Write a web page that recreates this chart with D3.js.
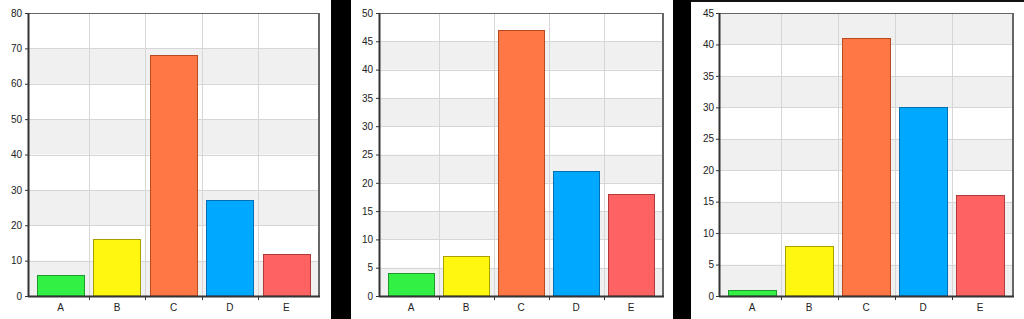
<!DOCTYPE html>
<html>
<head>
<meta charset="utf-8">
<script src="https://cdn.jsdelivr.net/npm/d3@7"></script>
<style>
  html, body { margin: 0; padding: 0; background: #000; }
  svg { display: block; }
</style>
</head>
<body>
<svg id="chart" width="1024" height="319"></svg>
<script>
// ---- data ----
const categories = ["A", "B", "C", "D", "E"];
const values1 = [6, 16, 68, 27, 12];
const values2 = [4, 7, 47, 22, 18];
const values3 = [1, 8, 41, 30, 16];
const yTicks1 = [0, 10, 20, 30, 40, 50, 60, 70, 80];
const yTicks2 = [0, 5, 10, 15, 20, 25, 30, 35, 40, 45, 50];
const yTicks3 = [0, 5, 10, 15, 20, 25, 30, 35, 40, 45];
const barFills = ["#33f044", "#fff70f", "#ff7744", "#00a8ff", "#ff6262"];
const barStrokes = ["#1f9a2a", "#a8a000", "#b84a22", "#0070b0", "#b03a3a"];

// ---- layout ----
const svg = d3.select("#chart");
const panels = [
  { bg: [0, 331], frame: [28, 319], values: values1, ticks: yTicks1, labelGap: 5 },
  { bg: [351, 673], frame: [379, 663], values: values2, ticks: yTicks2, labelGap: 5 },
  { bg: [691, 1024], frame: [719, 1013], values: values3, ticks: yTicks3, labelGap: 4 }
];
const plotTop = 13, plotBottom = 296;

svg.append("rect").attr("x", 0).attr("y", 0).attr("width", 1024).attr("height", 319).attr("fill", "#000");

panels.forEach((p, pi) => {
  svg.append("rect").attr("x", p.bg[0]).attr("y", 0)
    .attr("width", p.bg[1] - p.bg[0]).attr("height", 319).attr("fill", "#fff");
  if (pi === 2) {
    svg.append("rect").attr("x", p.bg[0]).attr("y", 0)
      .attr("width", p.bg[1] - p.bg[0]).attr("height", 2).attr("fill", "#111");
  }
  const L = p.frame[0], R = p.frame[1];
  const yMax = p.ticks[p.ticks.length - 1];
  const y = d3.scaleLinear().domain([0, yMax]).range([plotBottom, plotTop]);
  const x = d3.scaleBand().domain(categories).range([L + 4.5, R - 4.5]).paddingInner(0.16).paddingOuter(0.08);
  const g = svg.append("g");

  // alternating bands
  for (let i = 0; i < p.ticks.length - 1; i++) {
    if (i % 2 === 0) {
      g.append("rect").attr("x", L).attr("width", R - L)
        .attr("y", y(p.ticks[i + 1])).attr("height", y(p.ticks[i]) - y(p.ticks[i + 1]))
        .attr("fill", "#f0f0f0");
    }
  }
  // horizontal grid
  g.selectAll(".hg").data(p.ticks.slice(1, -1)).enter().append("line")
    .attr("x1", L).attr("x2", R)
    .attr("y1", d => Math.round(y(d)) + 0.5).attr("y2", d => Math.round(y(d)) + 0.5)
    .attr("stroke", "#d6d6d6").attr("stroke-width", 1);
  // vertical grid at category boundaries
  const step = x.step();
  const bounds = categories.slice(1).map(c => x(c) - x.paddingInner() * step / 2);
  g.selectAll(".vg").data(bounds).enter().append("line")
    .attr("x1", d => Math.round(d) + 0.5).attr("x2", d => Math.round(d) + 0.5)
    .attr("y1", plotTop).attr("y2", plotBottom)
    .attr("stroke", "#d6d6d6").attr("stroke-width", 1);

  // bars
  g.selectAll(".bar").data(p.values).enter().append("rect")
    .attr("x", (d, i) => Math.round(x(categories[i])) + 0.5)
    .attr("width", Math.round(x.bandwidth()))
    .attr("y", d => Math.round(y(d)) + 0.5)
    .attr("height", d => plotBottom - Math.round(y(d)) - 0.5)
    .attr("fill", (d, i) => barFills[i])
    .attr("stroke", (d, i) => barStrokes[i])
    .attr("stroke-width", 1);

  // frame: top and right
  g.append("line").attr("x1", L).attr("x2", R).attr("y1", plotTop + 0.5).attr("y2", plotTop + 0.5)
    .attr("stroke", "#666").attr("stroke-width", 1);
  g.append("line").attr("x1", R).attr("x2", R).attr("y1", plotTop).attr("y2", plotBottom)
    .attr("stroke", "#666").attr("stroke-width", 2);

  // y axis
  const yAxis = d3.axisLeft(y).tickValues(p.ticks).tickSize(3).tickPadding(p.labelGap - 2).tickFormat(d3.format("d"));
  const ya = svg.append("g").attr("transform", `translate(${L},0)`).call(yAxis);
  ya.select(".domain").attr("stroke", "#333").attr("stroke-width", 2).attr("d", `M0.5,${plotTop}V${plotBottom + 1}`);
  ya.selectAll(".tick line").attr("stroke", "#333");
  ya.selectAll("text").attr("fill", "#222").style("font-family", "'Liberation Sans', Arial, sans-serif").style("font-size", "10px");

  // x axis
  const xAxis = d3.axisBottom(x).tickSize(0).tickPadding(8);
  const xa = svg.append("g").attr("transform", `translate(0,${plotBottom})`).call(xAxis);
  xa.select(".domain").attr("stroke", "#333").attr("stroke-width", 2).attr("d", `M${L},0.5H${R + 1}`);
  xa.selectAll("text").attr("fill", "#222").style("font-family", "'Liberation Sans', Arial, sans-serif").style("font-size", "10px");
  xa.selectAll(".btick").data(bounds).enter().append("line").attr("class", "btick")
    .attr("x1", d => Math.round(d) + 0.5).attr("x2", d => Math.round(d) + 0.5)
    .attr("y1", 0).attr("y2", 4).attr("stroke", "#333");
});
</script>
</body>
</html>
